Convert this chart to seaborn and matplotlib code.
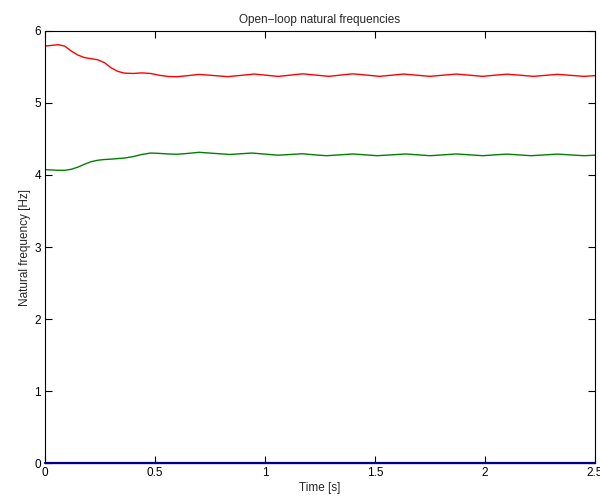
import matplotlib
matplotlib.use("Agg")
import matplotlib.pyplot as plt
import seaborn as sns
import pandas as pd

# ---- data ----
red_t = [0.00, 0.03, 0.06, 0.09, 0.12, 0.15, 0.18, 0.21, 0.24, 0.27, 0.30, 0.33,
         0.36, 0.40, 0.44, 0.48, 0.52, 0.56, 0.60, 0.65, 0.70, 0.765, 0.83, 0.89,
         0.95, 1.005, 1.06, 1.115, 1.17, 1.23, 1.29, 1.345, 1.40, 1.46, 1.52,
         1.575, 1.63, 1.69, 1.75, 1.81, 1.87, 1.93, 1.99, 2.045, 2.10, 2.16, 2.22,
         2.275, 2.33, 2.39, 2.45, 2.50]
red_f = [5.790, 5.800, 5.810, 5.790, 5.720, 5.665, 5.630, 5.615, 5.600, 5.560,
         5.490, 5.440, 5.415, 5.410, 5.418, 5.410, 5.385, 5.368, 5.365, 5.380,
         5.397, 5.382, 5.366, 5.383, 5.402, 5.386, 5.369, 5.387, 5.405, 5.388,
         5.370, 5.388, 5.405, 5.388, 5.370, 5.386, 5.402, 5.386, 5.370, 5.386,
         5.402, 5.386, 5.370, 5.386, 5.400, 5.386, 5.370, 5.384, 5.398, 5.384,
         5.370, 5.380]

green_t = [0.00, 0.03, 0.06, 0.09, 0.12, 0.15, 0.18, 0.21, 0.24, 0.27, 0.30, 0.33,
           0.36, 0.40, 0.44, 0.48, 0.52, 0.56, 0.60, 0.65, 0.70, 0.77, 0.84, 0.89,
           0.94, 1.00, 1.06, 1.115, 1.17, 1.225, 1.28, 1.34, 1.40, 1.455, 1.51,
           1.575, 1.64, 1.695, 1.75, 1.81, 1.87, 1.93, 1.99, 2.045, 2.10, 2.155,
           2.21, 2.27, 2.33, 2.39, 2.45, 2.50]
green_f = [4.075, 4.070, 4.065, 4.065, 4.080, 4.110, 4.150, 4.185, 4.205, 4.215,
           4.220, 4.228, 4.235, 4.255, 4.285, 4.305, 4.300, 4.292, 4.288, 4.300,
           4.315, 4.300, 4.285, 4.295, 4.305, 4.290, 4.275, 4.285, 4.295, 4.280,
           4.268, 4.280, 4.292, 4.280, 4.268, 4.280, 4.292, 4.280, 4.268, 4.280,
           4.292, 4.280, 4.268, 4.280, 4.290, 4.279, 4.268, 4.279, 4.290, 4.279,
           4.268, 4.275]

blue_t = [0.0, 2.5]
blue_f = [0.0, 0.0]

x_ticks = [0, 0.5, 1, 1.5, 2, 2.5]
x_labels = ["0", "0.5", "1", "1.5", "2", "2.5"]
y_ticks = [0, 1, 2, 3, 4, 5, 6]

sns.set_style("ticks")
plt.rcParams["font.family"] = ["Liberation Sans", "DejaVu Sans"]
plt.rcParams["xtick.direction"] = "in"
plt.rcParams["ytick.direction"] = "in"

fig = plt.figure(figsize=(6.0, 4.99), dpi=100)
ax = fig.add_axes([0.075, 0.0721, 0.9167, 0.8658])

red_df = pd.DataFrame({"t": red_t, "f": red_f})
green_df = pd.DataFrame({"t": green_t, "f": green_f})
blue_df = pd.DataFrame({"t": blue_t, "f": blue_f})

sns.lineplot(data=green_df, x="t", y="f", color="#008000", lw=1.0, ax=ax, sort=False, estimator=None)
sns.lineplot(data=red_df, x="t", y="f", color="#ff0000", lw=1.0, ax=ax, sort=False, estimator=None)

ax.set_xlim(0, 2.5)
ax.set_ylim(0, 6)
for s in ax.spines.values():
    s.set_visible(True)
    s.set_linewidth(0.8)
    s.set_color("black")

sns.lineplot(data=blue_df, x="t", y="f", color="#000090", lw=1.6, ax=ax, sort=False,
             estimator=None, clip_on=False, zorder=5)

ax.set_xticks(x_ticks)
ax.set_xticklabels(x_labels)
ax.set_yticks(y_ticks)
ax.tick_params(axis="both", which="both", direction="in", length=5, width=0.8,
               labelsize=8.5, top=True, right=True, pad=3, colors="black")

ax.set_xlabel("Time [s]", fontsize=8.5, labelpad=2)
ax.set_ylabel("Natural frequency [Hz]", fontsize=8.5, labelpad=2)
ax.set_title("Open\u2212loop natural frequencies", fontsize=8.5, pad=6)

fig.savefig("out.png", dpi=100)
